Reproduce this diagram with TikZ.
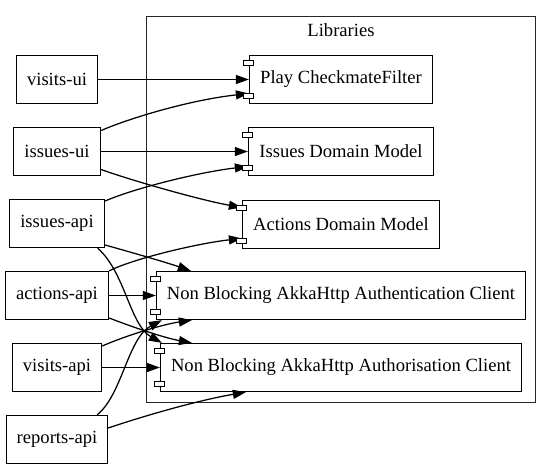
\documentclass[tikz,border=0pt]{standalone}
\usepackage{fontspec}
\setmainfont{Liberation Serif}
\usetikzlibrary{arrows.meta,calc}
\begin{document}
\begin{tikzpicture}[x=1pt,y=-1pt,
  box/.style={draw,line width=1.3pt,rectangle,inner sep=0pt,minimum height=48pt,
    font=\fontsize{18.6}{22}\selectfont},
  comp/.style={box},
  tab/.style={draw,line width=1pt,fill=white},
  cluster/.style={draw=black!85,line width=1.3pt},
  edge/.style={line width=1.25pt,-{Triangle[length=13pt,width=9pt]}}
]
\path[use as bounding box] (0,0) rectangle (552,469);

% cluster
\draw[cluster] (146.5,16.5) rectangle (535.5,402.5);
\node[font=\fontsize{18.6}{22}\selectfont] (lib) at (341,30) {Libraries};

% left nodes
\node[box,minimum width=81pt] (vui) at (57,79.5) {visits-ui};
\node[box,minimum width=87pt] (iui) at (57,151.5) {issues-ui};
\node[box,minimum width=95pt] (iapi) at (57,223.5) {issues-api};
\node[box,minimum width=103pt] (aapi) at (57,295.5) {actions-api};
\node[box,minimum width=89pt] (vapi) at (57,367.5) {visits-api};
\node[box,minimum width=101pt] (rapi) at (57,439.5) {reports-api};

% library components
\node[comp,minimum width=183pt] (play) at (341,79.5) {Play CheckmateFilter};
\node[comp,minimum width=185pt] (idm) at (341,151.5) {Issues Domain Model};
\node[comp,minimum width=197pt] (adm) at (341,224.5) {Actions Domain Model};
\node[comp,minimum width=369pt] (authn) at (341,295.5) {Non Blocking AkkaHttp Authentication Client};
\node[comp,minimum width=361pt] (authz) at (341,367.5) {Non Blocking AkkaHttp Authorisation Client};

% edges
\draw[edge] (vui.east) -- (play.west);
\draw[edge] ($(iui.east)+(0,-21)$) .. controls (130,118) and (190,100) .. ($(play.west)+(0,14)$);
\draw[edge] (iui.east) -- (idm.west);
\draw[edge] ($(iui.east)+(0,18)$) .. controls (130,180) and (200,200) .. ($(adm.west)+(0,-17)$);
\draw[edge] ($(iapi.east)+(0,-22.5)$) .. controls (135,188) and (200,172) .. ($(idm.west)+(0,15)$);
\draw[edge] ($(iapi.east)+(0,21.5)$) .. controls (130,252) and (165,262) .. ($(authn.north west)+(35,0)$);
\draw[edge] ($(iapi.south east)+(-7.5,0)$) .. controls (125,272) and (130,325) .. ($(authz.north west)+(2,0)$);
\draw[edge] (aapi.north east) .. controls (135,258) and (200,243) .. ($(adm.west)+(0,14)$);
\draw[edge] (aapi.east) -- (authn.west);
\draw[edge] ($(aapi.east)+(0,22.5)$) .. controls (135,328) and (165,338) .. ($(authz.north west)+(32,0)$);
\draw[edge] ($(vapi.east)+(0,-21.5)$) .. controls (130,334) and (165,324) .. ($(authn.south west)+(36,0)$);
\draw[edge] (vapi.east) -- (authz.west);
\draw[edge] ($(rapi.north east)+(-11,0)$) .. controls (122,395) and (128,338) .. ($(authn.south west)+(6,0)$);
\draw[edge] ($(rapi.east)+(0,-11.5)$) .. controls (150,414) and (200,400) .. ($(authz.south west)+(86,0)$);

% component tabs
\foreach \n in {play,idm,adm,authn,authz}{
  \draw[tab] ($(\n.north west)+(-5,6)$) rectangle ++(10,4.5);
  \draw[tab] ($(\n.south west)+(-5,-10.5)$) rectangle ++(10,4.5);
}
\end{tikzpicture}
\end{document}
